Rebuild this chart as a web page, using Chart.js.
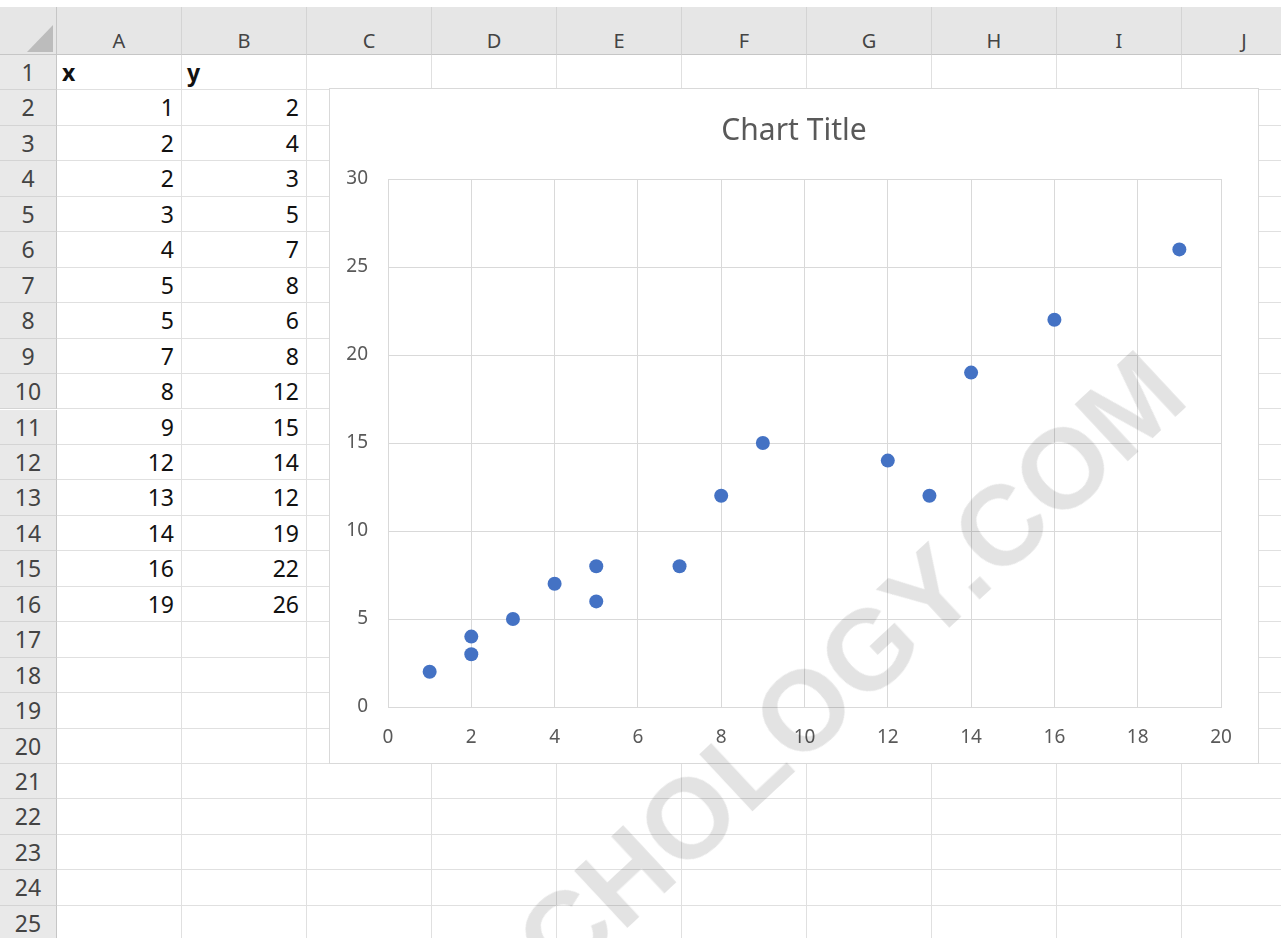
<!DOCTYPE html>
<html>
<head>
<meta charset="utf-8">
<script src="https://cdn.jsdelivr.net/npm/chart.js@4.4.1/dist/chart.umd.min.js"></script>
<style>
  html, body { margin: 0; padding: 0; background: #fff; }
  body { width: 1281px; height: 938px; overflow: hidden; position: relative; font-family: "Noto Sans", sans-serif; }
  #sheet { position: absolute; left: 0; top: 0; width: 1281px; height: 938px; }
  .cell { position: absolute; box-sizing: border-box; border-right: 1px solid #e0e0e0; border-bottom: 1px solid #e0e0e0;
          font-size: 23px; color: #111; white-space: nowrap; overflow: hidden; }
  .colhead { background: #e6e6e6; border-right: 1px solid #d4d4d4; border-bottom: 1px solid #c6c6c6; color: #444;
             font-size: 20px; text-align: center; line-height: 30px; padding-top: 19px; }
  .rowhead { background: #e9e9e9; border-right: 1px solid #c6c6c6; border-bottom: 1px solid #d4d4d4; color: #444; text-align: center; }
  .corner { background: #e6e6e6; border-right: 1px solid #c6c6c6; border-bottom: 1px solid #c6c6c6; }
  .tri { position: absolute; left: 27px; top: 18px; width: 0; height: 0;
         border-left: 26px solid transparent; border-bottom: 27px solid #bcbcbc; }
  #chartBox { position: absolute; left: 329px; top: 88px; width: 930px; height: 676px; box-sizing: border-box;
              border: 1px solid #d9d9d9; background: #fff; }
  #chartWrap { position: absolute; left: 0; top: 0; width: 928px; height: 674px; }
  #watermark { position: absolute; left: 850px; top: 667px; transform: translate(-50%, -50%) rotate(-43deg);
               font-family: "Liberation Sans", sans-serif; font-weight: bold; font-size: 114px; line-height: 1;
               color: rgba(0, 0, 0, 0.11); white-space: nowrap; pointer-events: none; }
</style>
</head>
<body>
<div id="sheet"></div>
<div id="chartBox"><div id="chartWrap"><canvas id="scatterChart"></canvas></div></div>
<div id="watermark"></div>

<script>
// sheet contents
const columnLetters = ["A", "B", "C", "D", "E", "F", "G", "H", "I", "J"];
const rowCount = 25;
const headers = ["x", "y"];
const xValues = [1, 2, 2, 3, 4, 5, 5, 7, 8, 9, 12, 13, 14, 16, 19];
const yValues = [2, 4, 3, 5, 7, 8, 6, 8, 12, 15, 14, 12, 19, 22, 26];

// chart axes
const chartTitle = "Chart Title";
const xMin = 0, xMax = 20, xStep = 2;
const yMin = 0, yMax = 30, yStep = 5;
const watermarkText = "CHOLOGY.COM";

const colLeft = 57, colWidth = 125;
const headTop = 7, rowTop = 55, rowHeight = 35.45;

function addCell(cls, left, top, width, height, text, style) {
  const el = document.createElement("div");
  el.className = cls;
  el.style.left = left + "px";
  el.style.top = top + "px";
  el.style.width = width + "px";
  el.style.height = height + "px";
  if (style) Object.assign(el.style, style);
  if (text !== undefined) el.textContent = text;
  document.getElementById("sheet").appendChild(el);
  return el;
}

const corner = addCell("cell corner", 0, headTop, colLeft, rowTop - headTop);
const tri = document.createElement("div");
tri.className = "tri";
corner.appendChild(tri);

columnLetters.forEach((c, i) => {
  addCell("cell colhead", colLeft + i * colWidth, headTop, colWidth, rowTop - headTop, c);
});

for (let r = 1; r <= rowCount; r++) {
  const top = rowTop + (r - 1) * rowHeight;
  addCell("cell rowhead", 0, top, colLeft, rowHeight, String(r), { lineHeight: rowHeight + "px" });
  columnLetters.forEach((c, i) => {
    let text, style = { lineHeight: rowHeight + "px" };
    if (r === 1 && i < 2) {
      text = headers[i];
      style.fontWeight = "bold";
      style.paddingLeft = "5px";
    } else if (r >= 2 && r - 2 < xValues.length && i < 2) {
      text = String(i === 0 ? xValues[r - 2] : yValues[r - 2]);
      style.textAlign = "right";
      style.paddingRight = "7px";
    }
    addCell("cell", colLeft + i * colWidth, top, colWidth, rowHeight, text, style);
  });
}

document.getElementById("watermark").textContent = watermarkText;

const points = xValues.map((x, i) => ({ x: x, y: yValues[i] }));
const tickFont = { family: "Noto Sans", size: 19 };

new Chart(document.getElementById("scatterChart"), {
  type: "scatter",
  data: {
    datasets: [
      {
        data: points,
        backgroundColor: "#4472C4",
        borderColor: "#4472C4",
        borderWidth: 0,
        pointRadius: 7,
        pointHoverRadius: 7
      }
    ]
  },
  options: {
    responsive: true,
    maintainAspectRatio: false,
    animation: false,
    layout: { padding: 0 },
    plugins: {
      legend: { display: false },
      tooltip: { enabled: false },
      title: {
        display: true,
        text: chartTitle,
        color: "#595959",
        font: { family: "Noto Sans", size: 30, weight: "normal", lineHeight: 1.2 },
        padding: { top: 24, bottom: 30 }
      }
    },
    scales: {
      x: {
        type: "linear",
        min: xMin,
        max: xMax,
        ticks: { stepSize: xStep, color: "#595959", font: tickFont, padding: 19, maxRotation: 0 },
        grid: { color: "#d9d9d9", drawTicks: false },
        border: { color: "#d9d9d9" },
        afterFit: (scale) => { scale.height = 56; scale.paddingRight = 37; }
      },
      y: {
        type: "linear",
        min: yMin,
        max: yMax,
        ticks: { stepSize: yStep, color: "#595959", font: tickFont, padding: 20 },
        grid: { color: "#d9d9d9", drawTicks: false },
        border: { color: "#d9d9d9" },
        afterFit: (scale) => { scale.width = 58; }
      }
    }
  }
});
</script>
</body>
</html>
